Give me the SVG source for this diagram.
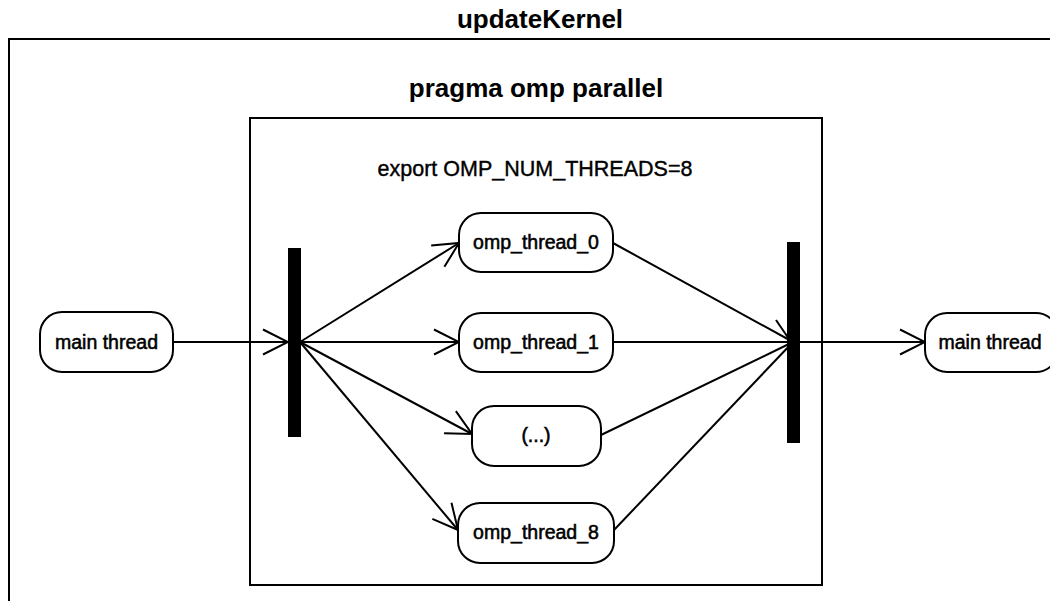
<svg xmlns="http://www.w3.org/2000/svg" width="1050" height="601" viewBox="0 0 1050 601">
  <defs>
    <style>
      .frame { fill: none; stroke: #000; stroke-width: 2; }
      .state { fill: #fff; stroke: #000; stroke-width: 2; }
      .bar { fill: #000; }
      .edge { fill: none; stroke: #000; stroke-width: 2; }
      .title { font-family: "Liberation Sans", Arial, sans-serif; font-weight: bold; font-size: 26px; fill: #000; text-anchor: middle; }
      .note { font-family: "Liberation Sans", Arial, sans-serif; font-size: 21.5px; fill: #000; stroke: #000; stroke-width: 0.4; text-anchor: middle; }
      .lbl { font-family: "Liberation Sans", Arial, sans-serif; font-size: 19.5px; fill: #000; stroke: #000; stroke-width: 0.55; text-anchor: middle; }
    </style>
    <marker id="open" viewBox="-27 -14 29 28" refX="0" refY="0" markerWidth="29" markerHeight="28" markerUnits="userSpaceOnUse" orient="auto">
      <path d="M-25,-12.5 L0,0 L-25,12.5" fill="none" stroke="#000" stroke-width="2"/>
    </marker>
  </defs>

  <rect width="1050" height="601" fill="#fff"/>

  <!-- activity frame: updateKernel -->
  <g id="updateKernel">
    <path class="frame" d="M9,601 V39 H1050"/>
    <text class="title" x="540" y="28">updateKernel</text>
  </g>

  <!-- parallel region -->
  <g id="ompParallel">
    <rect class="frame" x="250" y="118" width="572" height="467"/>
    <text class="title" x="536" y="97">pragma omp parallel</text>
    <text class="note" x="535" y="176">export OMP_NUM_THREADS=8</text>
  </g>

  <!-- connectors -->
  <g id="connectors">
    <line class="edge" x1="173" y1="342" x2="288" y2="342" marker-end="url(#open)"/>
    <line class="edge" x1="300" y1="342" x2="459" y2="243" marker-end="url(#open)"/>
    <line class="edge" x1="300" y1="342" x2="459" y2="342" marker-end="url(#open)"/>
    <line class="edge" x1="300" y1="342" x2="472" y2="434" marker-end="url(#open)"/>
    <line class="edge" x1="300" y1="342" x2="458" y2="530" marker-end="url(#open)"/>
    <line class="edge" x1="613" y1="243" x2="793" y2="342"/>
    <line class="edge" x1="776" y1="320" x2="789" y2="339"/>
    <line class="edge" x1="613" y1="342" x2="793" y2="342"/>
    <line class="edge" x1="601" y1="435" x2="793" y2="342"/>
    <line class="edge" x1="614" y1="530" x2="793" y2="342"/>
    <line class="edge" x1="800" y1="342" x2="925" y2="342" marker-end="url(#open)"/>
  </g>

  <g id="mainThreadStart">
    <rect class="state" x="40" y="312" width="133" height="60" rx="22"/>
    <text class="lbl" x="106.5" y="349">main thread</text>
  </g>

  <g id="fork">
    <rect class="bar" x="288" y="248" width="13" height="189"/>
  </g>

  <g id="thread0">
    <rect class="state" x="459" y="213" width="154" height="59" rx="22"/>
    <text class="lbl" x="536" y="249">omp_thread_0</text>
  </g>

  <g id="thread1">
    <rect class="state" x="459" y="313" width="154" height="59" rx="22"/>
    <text class="lbl" x="536" y="349">omp_thread_1</text>
  </g>

  <g id="threadMore">
    <rect class="state" x="472" y="406" width="129" height="60" rx="22"/>
    <text class="lbl" x="536" y="442">(...)</text>
  </g>

  <g id="thread8">
    <rect class="state" x="458" y="503" width="156" height="60" rx="22"/>
    <text class="lbl" x="536" y="539">omp_thread_8</text>
  </g>

  <g id="join">
    <rect class="bar" x="787" y="242" width="13" height="201"/>
  </g>

  <g id="mainThreadEnd">
    <rect class="state" x="925" y="313" width="133" height="59" rx="22"/>
    <text class="lbl" x="990" y="349">main thread</text>
  </g>
</svg>
